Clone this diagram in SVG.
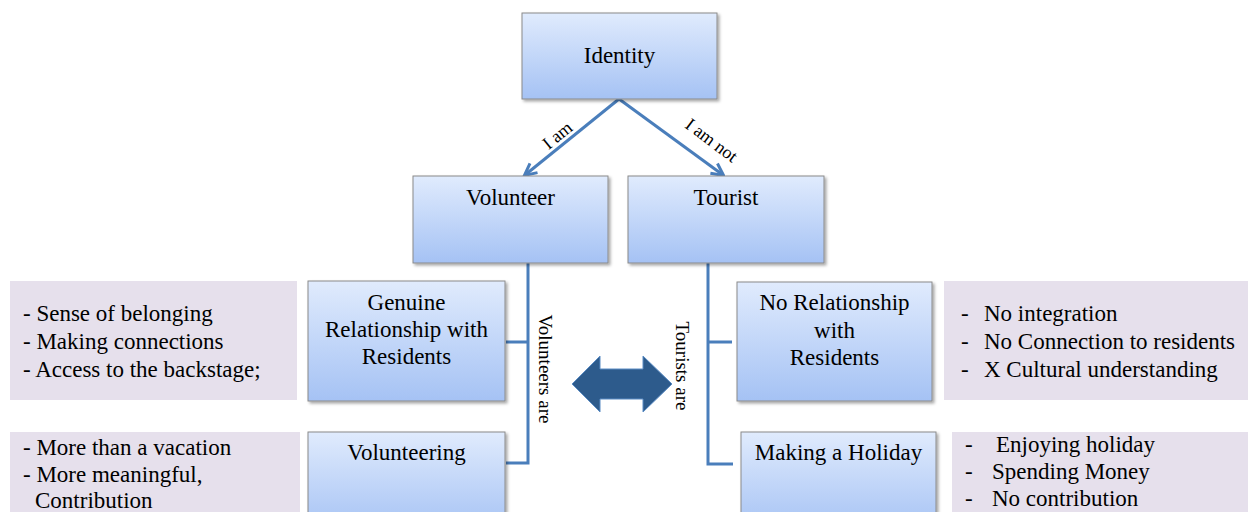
<svg xmlns="http://www.w3.org/2000/svg" width="1248" height="512" viewBox="0 0 1248 512">
<defs>
<linearGradient id="blue" x1="0" y1="0" x2="0" y2="1">
<stop offset="0" stop-color="#e0ebfd"/>
<stop offset="1" stop-color="#a5c2f4"/>
</linearGradient>
<filter id="sh" x="-10%" y="-10%" width="130%" height="130%">
<feDropShadow dx="2" dy="2" stdDeviation="1.5" flood-color="#000" flood-opacity="0.35"/>
</filter>
<marker id="ah" viewBox="0 0 10 10" refX="8.5" refY="5" markerWidth="5" markerHeight="5" orient="auto" markerUnits="strokeWidth">
<path d="M1,1 L9,5 L1,9" fill="none" stroke="#4a7ebb" stroke-width="2" stroke-linejoin="miter"/>
</marker>
<style>
.box{fill:url(#blue);stroke:#8a8a8a;stroke-width:1;filter:url(#sh)}
.pink{fill:#e6e0ec}
.t{font-family:"Liberation Serif",serif;font-size:23px;fill:#000}
.c{text-anchor:middle}
.lbl{font-family:"Liberation Serif",serif;font-size:18px;fill:#000}
.vl{font-family:"Liberation Serif",serif;font-size:19px;fill:#000}
.ln{stroke:#4a7ebb;stroke-width:3;fill:none}
</style>
</defs>
<rect width="1248" height="512" fill="#fff"/>

<g id="connectors">
<line class="ln" x1="619" y1="99" x2="525" y2="175" marker-end="url(#ah)"/>
<line class="ln" x1="619" y1="99" x2="723" y2="175" marker-end="url(#ah)"/>
<path class="ln" d="M528,263 V463 H506 M528,342 H506"/>
<path class="ln" d="M708,263 V464 H733 M708,342 H732"/>
<text class="lbl" transform="translate(561,140) rotate(-39)" text-anchor="middle">I am</text>
<text class="lbl" transform="translate(708,145) rotate(37)" text-anchor="middle">I am not</text>
<text class="vl" transform="translate(539,369) rotate(90)" text-anchor="middle">Volunteers are</text>
<text class="vl" transform="translate(676,366) rotate(90)" text-anchor="middle">Tourists are</text>
</g>

<g id="double-arrow">
<polygon points="572,384 600,356 600,369 643,369 643,356 672,384 643,412 643,399 600,399 600,412" fill="#2d5b8c" stroke="#5b8cc4" stroke-width="1"/>
</g>

<g id="identity">
<rect class="box" x="522" y="13" width="195" height="86"/>
<text class="t c" x="619.5" y="63">Identity</text>
</g>

<g id="volunteer">
<rect class="box" x="413" y="176" width="195" height="87"/>
<text class="t c" x="510.5" y="205">Volunteer</text>
</g>

<g id="tourist">
<rect class="box" x="628" y="176" width="196" height="87"/>
<text class="t c" x="726" y="205">Tourist</text>
</g>

<g id="volunteer-notes-1">
<rect class="pink" x="10" y="281" width="287" height="119"/>
<text class="t" x="23" y="321">- Sense of belonging</text>
<text class="t" x="23" y="349">- Making connections</text>
<text class="t" x="23" y="377">- Access to the backstage;</text>
</g>

<g id="genuine">
<rect class="box" x="308" y="281" width="197" height="120"/>
<text class="t c" x="406.5" y="310">Genuine</text>
<text class="t c" x="406.5" y="337">Relationship with</text>
<text class="t c" x="406.5" y="364">Residents</text>
</g>

<g id="no-relationship">
<rect class="box" x="737" y="282" width="195" height="119"/>
<text class="t c" x="834.5" y="310">No Relationship</text>
<text class="t c" x="834.5" y="338">with</text>
<text class="t c" x="834.5" y="365">Residents</text>
</g>

<g id="tourist-notes-1">
<rect class="pink" x="944" y="281" width="310" height="119"/>
<text class="t" x="961" y="321">-</text>
<text class="t" x="984" y="321">No integration</text>
<text class="t" x="961" y="349">-</text>
<text class="t" x="984" y="349">No Connection to residents</text>
<text class="t" x="961" y="377">-</text>
<text class="t" x="984" y="377">X Cultural understanding</text>
</g>

<g id="volunteer-notes-2">
<rect class="pink" x="10" y="432" width="290" height="100"/>
<text class="t" x="23" y="455">- More than a vacation</text>
<text class="t" x="23" y="482">- More meaningful,</text>
<text class="t" x="35" y="508">Contribution</text>
</g>

<g id="volunteering">
<rect class="box" x="308" y="432" width="197" height="100"/>
<text class="t c" x="406.5" y="460">Volunteering</text>
</g>

<g id="making-holiday">
<rect class="box" x="741" y="432" width="195" height="100"/>
<text class="t c" x="838.5" y="460">Making a Holiday</text>
</g>

<g id="tourist-notes-2">
<rect class="pink" x="952" y="432" width="300" height="100"/>
<text class="t" x="965" y="452">-</text>
<text class="t" x="996" y="452">Enjoying holiday</text>
<text class="t" x="965" y="479">-</text>
<text class="t" x="992" y="479">Spending Money</text>
<text class="t" x="965" y="506">-</text>
<text class="t" x="992" y="506">No contribution</text>
</g>
</svg>
